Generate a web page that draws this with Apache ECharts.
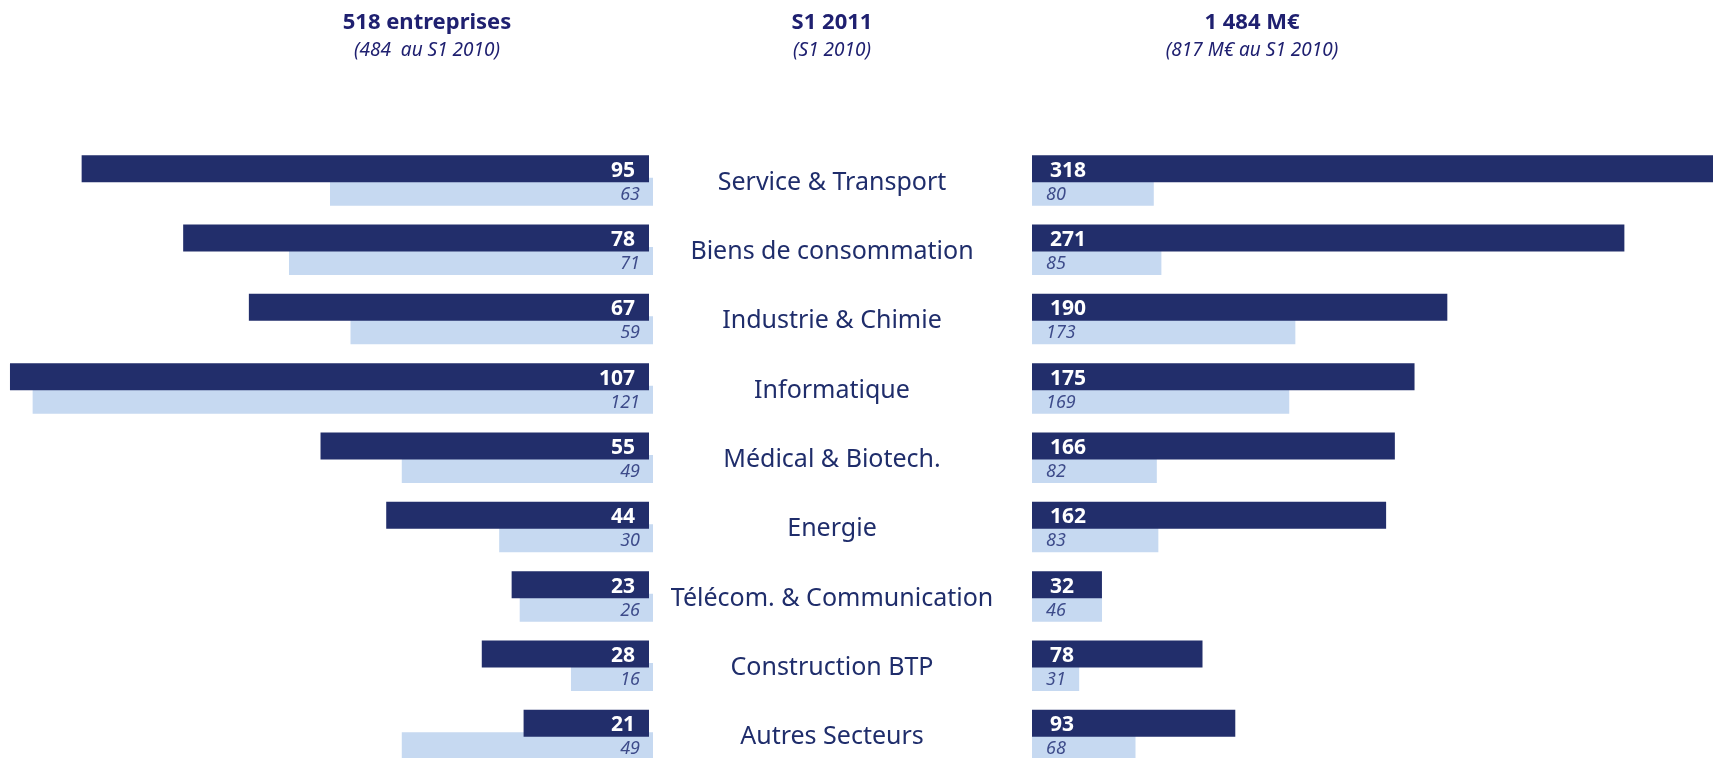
<!DOCTYPE html>
<html>
<head>
<meta charset="utf-8">
<script src="https://cdn.jsdelivr.net/npm/echarts@6/dist/echarts.min.js"></script>
<style>
  html, body { margin: 0; padding: 0; background: #fff; }
  #main { width: 1713px; height: 758px; }
</style>
</head>
<body>
<div id="main"></div>
<script>
// secteurs et valeurs S1 2011 / S1 2010
const sectors = ['Service & Transport', 'Biens de consommation', 'Industrie & Chimie', 'Informatique',
  'Médical & Biotech.', 'Energie', 'Télécom. & Communication', 'Construction BTP', 'Autres Secteurs'];
const nb2011 = [95, 78, 67, 107, 55, 44, 23, 28, 21];
const nb2010 = [63, 71, 59, 121, 49, 30, 26, 16, 49];
const mnt2011 = [318, 271, 190, 175, 166, 162, 32, 78, 93];
const mnt2010 = [80, 85, 173, 169, 82, 83, 46, 31, 68];

const headTitles = ['518 entreprises', 'S1 2011', '1 484 M€'];
const headSubs = ['(484  au S1 2010)', '(S1 2010)', '(817 M€ au S1 2010)'];

const DARK = '#222e6b';
const LIGHT = '#c6d9f1';
const NAVY = '#1f2070';
const FONT = '"Noto Sans", sans-serif';

const chart = echarts.init(document.getElementById('main'));

const hiddenValue = function (idx, max, inverse) {
  return {
    type: 'value', gridIndex: idx, min: 0, max: max, inverse: inverse,
    axisLine: {show: false}, axisTick: {show: false}, axisLabel: {show: false}, splitLine: {show: false}
  };
};
const hiddenCat = function (idx, showLabel) {
  return {
    type: 'category', gridIndex: idx, data: sectors, inverse: true,
    axisLine: {show: false}, axisTick: {show: false}, splitLine: {show: false},
    axisLabel: showLabel ? {
      show: true, align: 'center', margin: 0, color: '#1f2d6b',
      fontFamily: FONT, fontSize: 25, interval: 0
    } : {show: false}
  };
};
const mkGrid = function (left, width, top) {
  return {left: left, width: width, top: top, height: 624, outerBoundsMode: 'none'};
};

const darkLabel = function (pos, dist) {
  return {
    show: true, position: pos, distance: dist, offset: [0, 2], color: '#fff',
    fontFamily: FONT, fontWeight: 'bold', fontSize: 21
  };
};
const lightLabel = function (pos, dist) {
  return {
    show: true, position: pos, distance: dist, offset: [0, 3], color: '#3d4b8a',
    fontFamily: FONT, fontStyle: 'italic', fontSize: 18
  };
};

const option = {
  animation: false,
  title: headTitles.map(function (t, i) {
    return {
      text: t, subtext: headSubs[i],
      left: [422, 827, 1247][i], top: 5, textAlign: 'center', itemGap: 4,
      textStyle: {color: NAVY, fontFamily: FONT, fontWeight: 'bold', fontSize: 22, lineHeight: 26},
      subtextStyle: {color: NAVY, fontFamily: FONT, fontStyle: 'italic', fontSize: 19, lineHeight: 22}
    };
  }),
  grid: [
    mkGrid(4, 645, 134),      // nb 2011
    mkGrid(7, 646, 157),      // nb 2010
    mkGrid(1032, 682, 134),   // montant 2011
    mkGrid(1032, 685, 157),   // montant 2010
    mkGrid(832, 1, 148)       // libellés
  ],
  xAxis: [
    hiddenValue(0, 108, true),
    hiddenValue(1, 126, true),
    hiddenValue(2, 312, false),
    hiddenValue(3, 450, false),
    hiddenValue(4, 1, false)
  ],
  yAxis: [
    hiddenCat(0, false),
    hiddenCat(1, false),
    hiddenCat(2, false),
    hiddenCat(3, false),
    hiddenCat(4, true)
  ],
  series: [
    {
      name: 'Nb S1 2010', type: 'bar', xAxisIndex: 1, yAxisIndex: 1, data: nb2010,
      barWidth: 28, itemStyle: {color: LIGHT}, label: lightLabel('insideRight', 13), z: 1
    },
    {
      name: 'Nb S1 2011', type: 'bar', xAxisIndex: 0, yAxisIndex: 0, data: nb2011,
      barWidth: 27, itemStyle: {color: DARK}, label: darkLabel('insideRight', 14), z: 2
    },
    {
      name: 'M€ S1 2010', type: 'bar', xAxisIndex: 3, yAxisIndex: 3, data: mnt2010,
      barWidth: 28, itemStyle: {color: LIGHT}, label: lightLabel('insideLeft', 14), z: 1
    },
    {
      name: 'M€ S1 2011', type: 'bar', xAxisIndex: 2, yAxisIndex: 2, data: mnt2011,
      barWidth: 27, itemStyle: {color: DARK}, label: darkLabel('insideLeft', 18), z: 2
    }
  ]
};

chart.setOption(option);
</script>
</body>
</html>
